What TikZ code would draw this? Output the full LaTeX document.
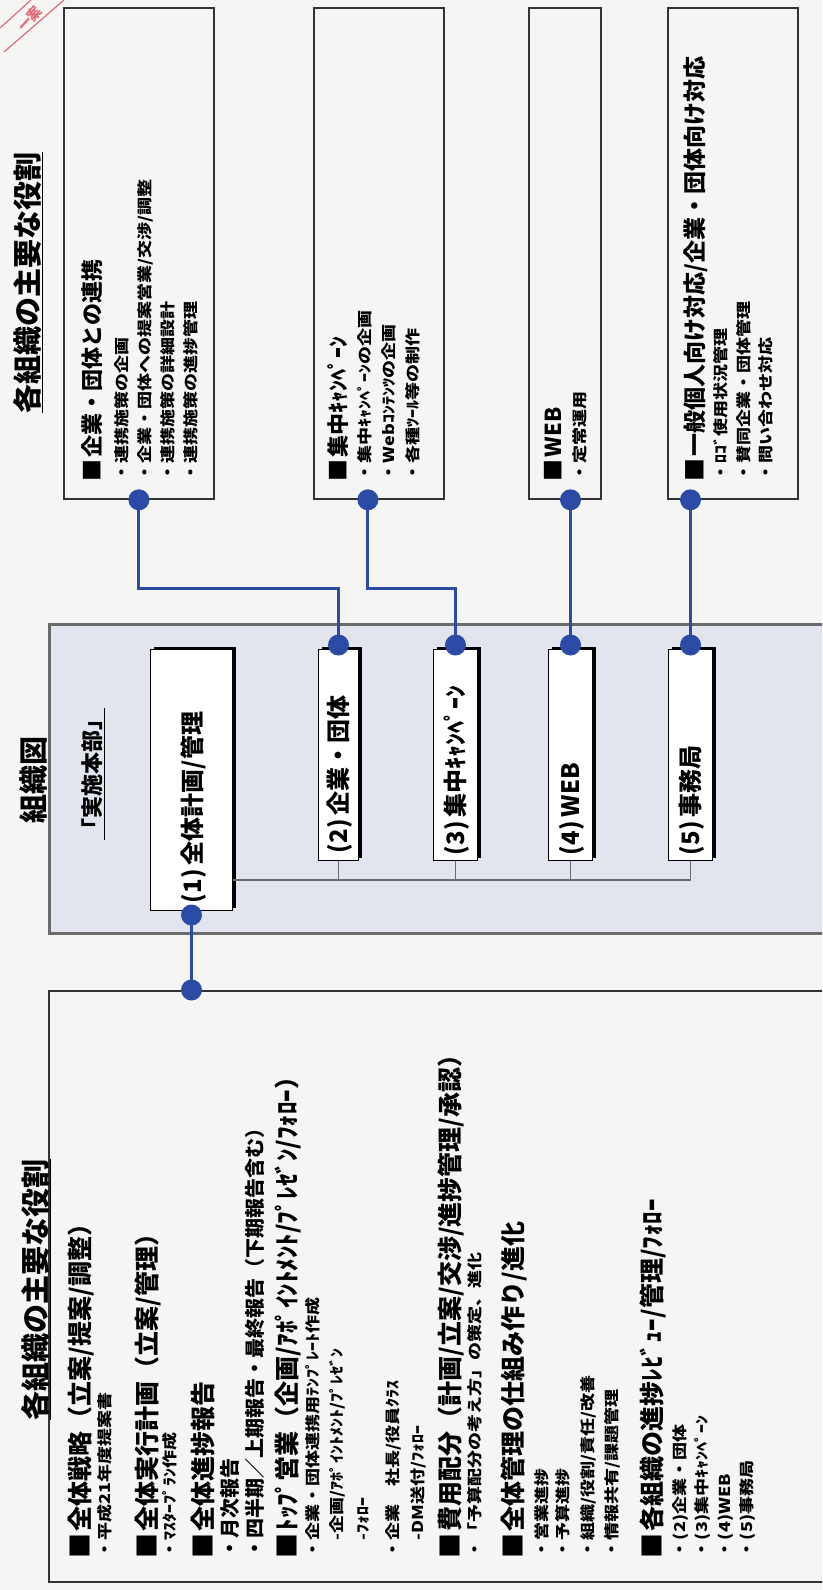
\documentclass[tikz,border=0pt]{standalone}
\usepackage{fontspec}
\newfontfamily\jp{Noto Sans CJK JP}
\newfontfamily\jpw{Noto Sans CJK JP}[FakeStretch=1.2]
\usetikzlibrary{calc}
\definecolor{bg}{HTML}{F5F5F3}
\definecolor{grayfill}{HTML}{E2E5ED}
\definecolor{grayline}{HTML}{6A6A6A}
\definecolor{boxline}{HTML}{333333}
\definecolor{linkblue}{HTML}{2B4BA6}
\definecolor{stampred}{HTML}{E06A78}
\tikzset{
  txt/.style={rotate=90, anchor=west, inner sep=0pt, outer sep=0pt},
  ttl/.style={txt, font=\jp\bfseries\fontsize{29}{29}\selectfont, text height=25.5pt, text depth=3.5pt},
  hdL/.style={txt, font=\jp\bfseries\fontsize{25}{25}\selectfont, text height=22pt, text depth=3pt},
  hdT/.style={txt, font=\jp\bfseries\fontsize{22}{22}\selectfont, text height=19.4pt, text depth=2.6pt},
  hdTb/.style={txt, font=\jp\bfseries\fontsize{23}{23}\selectfont, text height=20.2pt, text depth=2.8pt},
  orgtxt/.style={txt, font=\jp\bfseries\fontsize{24}{24}\selectfont, text height=21.1pt, text depth=2.9pt},
  subS/.style={txt, font=\jpw\bfseries\fontsize{15}{15}\selectfont, text height=13.2pt, text depth=1.8pt},
  subM/.style={txt, font=\jp\bfseries\fontsize{20}{20}\selectfont, text height=17.6pt, text depth=2.4pt},
  topbox/.style={draw=boxline, line width=1.8pt, anchor=north west, inner sep=0pt},
  orgbox/.style={draw=black, line width=1pt, fill=white, anchor=north west, inner sep=0pt,
    preaction={fill=black, transform canvas={xshift=3pt, yshift=3pt}}},
  dot/.style={circle, fill=linkblue, minimum size=21pt, inner sep=0pt},
  link/.style={draw=linkblue, line width=3pt},
  orgline/.style={draw=grayline, line width=1.2pt},
}
\begin{document}
\begin{tikzpicture}[x=1pt, y=-1pt]
\useasboundingbox (0,0) rectangle (822,1590);
\clip (0,0) rectangle (822,1590);
\fill[bg] (0,0) rectangle (822,1590);

% stamp fragment
\draw[stampred, line width=1.2pt] (0,28) -- (31,0);
\draw[stampred, line width=1.2pt] (4,52) -- (64,0);
\node[font=\jp\bfseries\fontsize{14}{14}\selectfont, text=stampred, rotate=48, inner sep=0pt] (stamp) at (30,19) {一案};

% ---------- top boxes ----------
\node[ttl] (ttop) at (27,413) {\underline{各組織の主要な役割}};
\node[topbox, minimum width=150pt, minimum height=491pt] (t1) at (63,7) {};
\node[topbox, minimum width=130pt, minimum height=491pt] (t2) at (313,7) {};
\node[topbox, minimum width=72pt, minimum height=491pt] (t3) at (528,7) {};
\node[topbox, minimum width=130pt, minimum height=491pt] (t4) at (667,7) {};

\node[hdT] (t1h) at (92,481) {■\hspace{2pt}企業・団体との連携};
\node[subS] (t1a) at (122,481) {・連携施策の企画};
\node[subS] (t1b) at (145,481) {・企業・団体への提案営業/交渉/調整};
\node[subS] (t1c) at (168,481) {・連携施策の詳細設計};
\node[subS] (t1d) at (191,481) {・連携施策の進捗管理};

\node[hdT] (t2h) at (338,481) {■\hspace{2pt}集中ｷｬﾝﾍﾟｰﾝ};
\node[subS] (t2a) at (365,481) {・集中ｷｬﾝﾍﾟｰﾝの企画};
\node[subS] (t2b) at (389,481) {・Webｺﾝﾃﾝﾂの企画};
\node[subS] (t2c) at (413,481) {・各種ﾂｰﾙ等の制作};

\node[hdT] (t3h) at (553,481) {■\hspace{2pt}WEB};
\node[subS] (t3a) at (580,481) {・定常運用};

\node[hdTb] (t4h) at (695,481) {■\hspace{2pt}一般個人向け対応/企業・団体向け対応};
\node[subS] (t4a) at (721,481) {・ﾛｺﾞ使用状況管理};
\node[subS] (t4b) at (744,481) {・賛同企業・団体管理};
\node[subS] (t4c) at (766,481) {・問い合わせ対応};

% ---------- organisation chart ----------
\node[ttl] (torg) at (33,823) {\underline{組織図}};
\node[draw=grayline, fill=grayfill, line width=2.5pt, anchor=north west, inner sep=0pt,
      minimum width=800pt, minimum height=309pt] (G) at (48,623) {};
\node[hdT] (hq) at (92,840) {\underline{「実施本部」}};

\node[orgbox, minimum width=82pt, minimum height=261pt] (b1) at (150,649) {};
\node[orgbox, minimum width=40pt, minimum height=211pt] (b2) at (318,649) {};
\node[orgbox, minimum width=44pt, minimum height=211pt] (b3) at (433,649) {};
\node[orgbox, minimum width=44pt, minimum height=211pt] (b4) at (548,649) {};
\node[orgbox, minimum width=44pt, minimum height=211pt] (b5) at (668,649) {};

\node[orgtxt] (b1t) at (192,903) {(1)\hspace{4pt}全体計画/管理};
\node[orgtxt] (b2t) at (338,853) {(2)\hspace{4pt}企業・団体};
\node[orgtxt] (b3t) at (455,855) {(3)\hspace{4pt}集中ｷｬﾝﾍﾟｰﾝ};
\node[orgtxt] (b4t) at (570,855) {(4)\hspace{4pt}WEB};
\node[orgtxt] (b5t) at (690,855) {(5)\hspace{4pt}事務局};

\coordinate (hub) at (0,880);
\draw[orgline] (b1.east |- hub) -- (b5.south |- hub) -- (b5.south);
\draw[orgline] (b2.south) -- (b2.south |- hub);
\draw[orgline] (b3.south) -- (b3.south |- hub);
\draw[orgline] (b4.south) -- (b4.south |- hub);

% ---------- bottom box ----------
\node[draw=boxline, line width=2pt, anchor=north west, inner sep=0pt,
      minimum width=800pt, minimum height=591pt] (L) at (48,990) {};
\node[ttl] (tleft) at (35,1420) {\underline{各組織の主要な役割}};

\node[hdL] (l1) at (80,1558) {■\hspace{2pt}全体戦略（立案/提案/調整）};
\node[subS] (l2) at (105,1558) {・平成21年度提案書};
\node[hdL] (l3) at (147,1558) {■\hspace{2pt}全体実行計画（立案/管理）};
\node[subS] (l4) at (170,1558) {・ﾏｽﾀｰﾌﾟﾗﾝ作成};
\node[hdL] (l5) at (203,1558) {■\hspace{2pt}全体進捗報告};
\node[subM] (l6) at (230,1558) {・月次報告};
\node[subM] (l7) at (255,1558) {・四半期／上期報告・最終報告（下期報告含む）};
\node[hdL] (l8) at (287,1558) {■\hspace{2pt}ﾄｯﾌﾟ営業（企画/ｱﾎﾟｲﾝﾄﾒﾝﾄ/ﾌﾟﾚｾﾞﾝ/ﾌｫﾛｰ）};
\node[subS] (l9) at (313,1558) {・企業・団体連携用ﾃﾝﾌﾟﾚｰﾄ作成};
\node[subS] (l10) at (337,1558) {\phantom{・}-企画/ｱﾎﾟｲﾝﾄﾒﾝﾄ/ﾌﾟﾚｾﾞﾝ};
\node[subS] (l11) at (363,1558) {\phantom{・}-ﾌｫﾛｰ};
\node[subS] (l12) at (393,1558) {・企業　社長/役員ｸﾗｽ};
\node[subS] (l13) at (418,1558) {\phantom{・}-DM送付/ﾌｫﾛｰ};
\node[hdL] (l14) at (450,1558) {■\hspace{2pt}費用配分（計画/立案/交渉/進捗管理/承認）};
\node[subS] (l15) at (475,1558) {・「予算配分の考え方」の策定、進化};
\node[hdL] (l16) at (513,1558) {■\hspace{2pt}全体管理の仕組み作り/進化};
\node[subS] (l17) at (542,1558) {・営業進捗};
\node[subS] (l18) at (563,1558) {・予算進捗};
\node[subS] (l19) at (588,1558) {・組織/役割/責任/改善};
\node[subS] (l20) at (612,1558) {・情報共有/課題管理};
\node[hdL] (l21) at (652,1558) {■\hspace{2pt}各組織の進捗ﾚﾋﾞｭｰ/管理/ﾌｫﾛｰ};
\node[subS] (l22) at (680,1558) {・(2)企業・団体};
\node[subS] (l23) at (702,1558) {・(3)集中ｷｬﾝﾍﾟｰﾝ};
\node[subS] (l24) at (725,1558) {・(4)WEB};
\node[subS] (l25) at (747,1558) {・(5)事務局};

% ---------- blue links ----------
\coordinate (lane) at (0,588);
\coordinate (d1t) at (t1.south);
\coordinate (d2t) at ([xshift=-11pt]t2.south);
\coordinate (d3t) at (b4.north |- t3.south);
\coordinate (d4t) at (b5.north |- t4.south);
\coordinate (d2b) at ([yshift=4pt]b2.north);
\coordinate (d3b) at ([yshift=4pt]b3.north);
\coordinate (d4b) at ([yshift=4pt]b4.north);
\coordinate (d5b) at ([yshift=4pt]b5.north);
\coordinate (d1b) at ([yshift=-4pt]b1.south);
\coordinate (d1L) at (b1.south |- L.north);

\draw[link] (d1t) -- (d1t |- lane) -| (d2b);
\draw[link] (d2t) -- (d2t |- lane) -| (d3b);
\draw[link] (d3t) -- (d4b);
\draw[link] (d4t) -- (d5b);
\draw[link] (d1b) -- (d1L);

\foreach \p in {d1t,d2t,d3t,d4t,d2b,d3b,d4b,d5b,d1b,d1L}
  \node[dot] (dot-\p) at (\p) {};
\end{tikzpicture}
\end{document}
